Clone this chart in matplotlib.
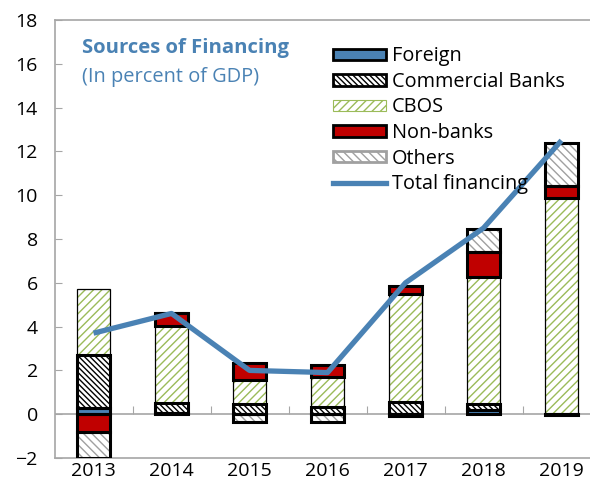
import matplotlib
matplotlib.use("Agg")
import matplotlib.pyplot as plt
import numpy as np
from matplotlib.patches import Patch
from matplotlib.lines import Line2D

plt.rcParams['font.family'] = ['Open Sans', 'DejaVu Sans']

years = ['2013', '2014', '2015', '2016', '2017', '2018', '2019']
foreign = [0.3, 0.05, 0.0, 0.0, 0.0, 0.2, -0.05]
commercial = [2.4, 0.45, 0.45, 0.35, 0.56, 0.25, 0.0]
cbos = [3.0, 3.55, 1.1, 1.35, 4.94, 5.8, 9.85]
nonbanks = [-0.8, 0.55, 0.78, 0.56, 0.36, 1.14, 0.55]
others = [-1.2, 0.0, -0.35, -0.35, -0.1, 1.06, 2.0]
total = [3.7, 4.6, 2.0, 1.9, 6.0, 8.5, 12.5]

blue = '#4A82B4'
red = '#C00000'
green = '#9BBB59'
gray = '#A0A0A0'

fig = plt.figure(figsize=(5.9, 4.99), dpi=100)
ax = fig.add_axes([54.5 / 590, 41 / 499, 546 / 590, 438 / 499])

x = np.arange(len(years))
w = 0.42
pos_base = np.zeros(len(years))
neg_base = np.zeros(len(years))

cb_hatch = '\\' * 6
oth_hatch = '\\' * 4
cbos_hatch = '////'

series = [
    (foreign, blue, None, blue, 2.2),
    (commercial, 'white', cb_hatch, 'black', 2.2),
    (cbos, 'white', cbos_hatch, green, 0.9),
    (nonbanks, red, None, red, 2.2),
    (others, 'white', oth_hatch, gray, 2.2),
]

for vals, fc, hatch, hc, lw in series:
    vals = np.array(vals)
    bottom = np.where(vals >= 0, pos_base, neg_base)
    # hatch drawn in its own colour, then a black outline on top
    ax.bar(x, vals, w, bottom=bottom, color=fc, hatch=hatch, edgecolor=hc,
           linewidth=0, zorder=2)
    ax.bar(x, vals, w, bottom=bottom, facecolor='none', edgecolor='black',
           linewidth=lw, zorder=3)
    pos_base += np.where(vals >= 0, vals, 0)
    neg_base += np.where(vals < 0, vals, 0)

ax.plot(x, total, color=blue, linewidth=3.8, zorder=4, solid_capstyle='butt')

ax.set_xlim(-0.5, 6.5)
ax.set_ylim(-2, 18)
ax.set_yticks(np.arange(-2, 19, 2))
ax.set_xticks(x)
ax.set_xticklabels(years)
ax.tick_params(axis='x', length=0, pad=3, labelsize=14)
ax.tick_params(axis='y', direction='in', length=5, color='#A6A6A6', pad=12,
               labelsize=14)
for s in ['left', 'top', 'bottom']:
    ax.spines[s].set_color('#A6A6A6')
    ax.spines[s].set_linewidth(1.2)
ax.spines['right'].set_visible(False)

# zero line with ticks between categories
ax.axhline(0, color='#A6A6A6', linewidth=1.2, zorder=1)
zero_ax = ax.secondary_xaxis(0.1)
zero_ax.spines['bottom'].set_visible(False)
zero_ax.set_xticks(x[:-1] + 0.5)
zero_ax.tick_params(axis='x', direction='in', length=6, color='#A6A6A6',
                    labelbottom=False)

ax.text(0.05, 0.936, 'Sources of Financing', transform=ax.transAxes,
        color=blue, fontsize=14.6, fontweight='bold', va='center')
ax.text(0.05, 0.87, '(In percent of GDP)', transform=ax.transAxes,
        color=blue, fontsize=14.4, va='center')

handles = [
    Patch(facecolor=blue, edgecolor='black', linewidth=2),
    Patch(facecolor='white', edgecolor='black', hatch=cb_hatch, linewidth=2),
    Patch(facecolor='white', edgecolor=green, hatch=cbos_hatch, linewidth=0.8),
    Patch(facecolor=red, edgecolor='black', linewidth=2),
    Patch(facecolor='white', edgecolor=gray, hatch=oth_hatch, linewidth=2),
    Line2D([], [], color=blue, linewidth=3.8),
]
labels = ['Foreign', 'Commercial Banks', 'CBOS', 'Non-banks', 'Others',
          'Total financing']
ax.legend(handles, labels, loc='upper left', bbox_to_anchor=(0.496, 0.958),
          frameon=False, fontsize=14.3, handlelength=2.65, handleheight=0.5,
          labelspacing=0.28, handletextpad=0.3, borderaxespad=0)

fig.savefig('out.png', dpi=100)
